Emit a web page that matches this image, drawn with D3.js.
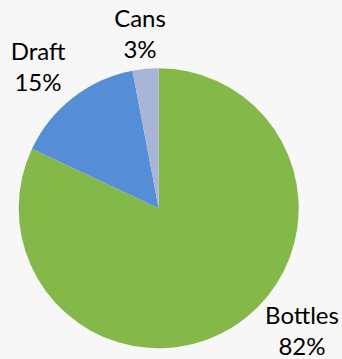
<!DOCTYPE html>
<html>
<head>
<meta charset="utf-8">
<script src="https://cdn.jsdelivr.net/npm/d3@7"></script>
<style>
  html, body { margin: 0; padding: 0; background: #f7f7f7; }
  svg { display: block; }
  text { font-family: Lato, "Open Sans", sans-serif; fill: #000; }
</style>
</head>
<body>
<svg id="chart" width="342" height="359"></svg>
<script>
// Beer sales by package type (percent of total)
const categories = ["Bottles", "Draft", "Cans"];
const shares = [82, 15, 3];
const colors = ["#84b94a", "#558ed6", "#a9b5d6"];

// Layout
const width = 342, height = 359;
const cx = 158.7, cy = 208.3, radius = 140;
const fontSize = 24, lineGap = 31;
// label block centres (x, first-line baseline) for each category
const labelAnchors = [[302, 324], [38, 60], [140, 27]];

const svg = d3.select("#chart");
const g = svg.append("g").attr("transform", `translate(${cx},${cy})`);

const data = categories.map((c, i) => ({ name: c, value: shares[i], color: colors[i] }));

const pie = d3.pie().value(d => d.value).sort(null);
const arc = d3.arc().innerRadius(0).outerRadius(radius);

g.selectAll("path.slice")
  .data(pie(data))
  .join("path")
  .attr("class", "slice")
  .attr("d", arc)
  .attr("fill", d => d.data.color);

const labels = svg.selectAll("text.label")
  .data(data)
  .join("text")
  .attr("class", "label")
  .attr("text-anchor", "middle")
  .attr("font-size", fontSize);

labels.append("tspan")
  .attr("x", (d, i) => labelAnchors[i][0])
  .attr("y", (d, i) => labelAnchors[i][1])
  .text(d => d.name);

labels.append("tspan")
  .attr("x", (d, i) => labelAnchors[i][0])
  .attr("y", (d, i) => labelAnchors[i][1] + lineGap)
  .text(d => d3.format(".0f")(d.value) + "%");
</script>
</body>
</html>
